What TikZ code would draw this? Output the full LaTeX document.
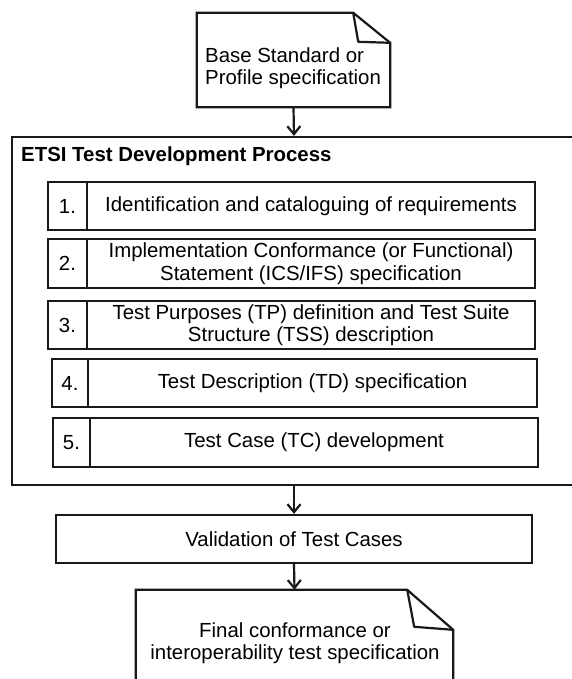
\documentclass[tikz,border=0pt]{standalone}
\usepackage{fontspec}
\setmainfont{Liberation Sans}
\usetikzlibrary{arrows.meta}
\newcommand{\diafont}{\fontsize{20.4}{22.5}\selectfont}
\begin{document}
\begin{tikzpicture}[x=1pt,y=-1pt,
  txt/.style={font=\diafont, inner sep=0pt},
  boxline/.style={draw=black!90, line width=2.5pt},
  numbox/.style={boxline, minimum height=48pt, inner sep=0pt, font=\diafont},
  textbox/.style={boxline, minimum height=48pt, inner sep=0pt, align=center, font=\diafont},
  frame/.style={draw=black!90, line width=2.2pt, inner sep=0pt},
  arr/.style={draw=black!90, line width=2.2pt, -{Straight Barb[length=8pt,width=13pt]}}
]
\useasboundingbox (0,0) rectangle (572,679);
\fill[white] (0,0) rectangle (572,679);

% base standard document
\node[minimum width=193pt, minimum height=94pt, inner sep=0pt] (base) at (293.5,60) {};
\draw[frame] (base.south west) -- (base.north west) -- ([xshift=-37pt]base.north east) coordinate (bf)
  -- ([yshift=-30pt]base.north east) -- (base.south east) -- cycle;
\draw[frame, line join=round] (bf) -- ([xshift=-32pt,yshift=-29pt]base.north east) -- ([yshift=-30pt]base.north east);
\node[txt, align=left, anchor=west] (basetxt) at (205,68) {Base Standard or\\Profile specification};

% outer process frame
\node[frame, minimum width=564pt, minimum height=348pt] (outer) at (294,311) {};
\node[txt, font=\diafont\bfseries, anchor=west] (title) at (21,156) {ETSI Test Development Process};

% steps
\node[numbox, minimum width=39pt] (n1) at (67.5,206) {1.};
\node[textbox, minimum width=448pt] (t1) at (311,206) {Identification and cataloguing of requirements};

\node[numbox, minimum width=39pt, minimum height=49pt] (n2) at (67.5,263.5) {2.};
\node[textbox, minimum width=448pt, minimum height=49pt] (t2) at (311,263.5) {Implementation Conformance (or Functional)\\Statement (ICS/IFS) specification};

\node[numbox, minimum width=39pt] (n3) at (67.5,325) {3.};
\node[textbox, minimum width=448pt] (t3) at (311,325) {Test Purposes (TP) definition and Test Suite\\Structure (TSS) description};

\node[numbox, minimum width=36pt] (n4) at (70,383) {4.};
\node[textbox, minimum width=449pt] (t4) at (312.5,383) {Test Description (TD) specification};

\node[numbox, minimum width=37pt, minimum height=49pt] (n5) at (71.5,442.5) {5.};
\node[textbox, minimum width=448pt, minimum height=49pt] (t5) at (314,442.5) {Test Case (TC) development};

% validation
\node[frame, minimum width=476pt, minimum height=48pt, font=\diafont] (val) at (294,539) {Validation of Test Cases};

% final document
\node[minimum width=317pt, minimum height=110pt, inner sep=0pt] (final) at (294.5,645) {};
\draw[frame] (final.south west) -- (final.north west) -- ([xshift=-46pt]final.north east) coordinate (ff)
  -- ([yshift=-40pt]final.north east) -- (final.south east);
\draw[frame, line join=round] (ff) -- ([xshift=-39pt,yshift=-37pt]final.north east) -- ([yshift=-40pt]final.north east);
\node[txt, align=center] (finaltxt) at (295,643) {Final conformance or\\interoperability test specification};

% connectors
\draw[arr] (base.south) -- (outer.north);
\draw[arr] (outer.south) -- (val.north);
\draw[arr] (val.south) -- (final.north);
\end{tikzpicture}
\end{document}
